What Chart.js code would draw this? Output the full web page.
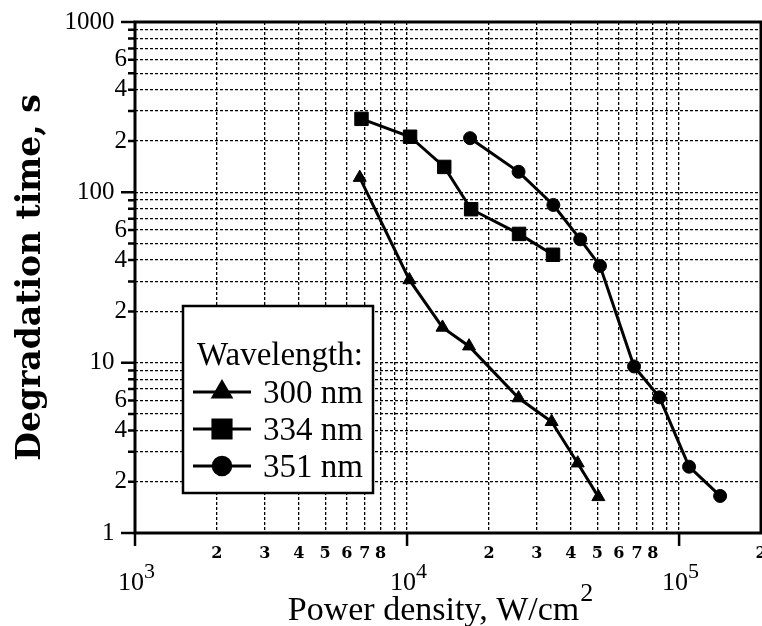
<!DOCTYPE html>
<html>
<head>
<meta charset="utf-8">
<script src="https://cdn.jsdelivr.net/npm/chart.js@4.4.1/dist/chart.umd.min.js"></script>
<style>
  html, body { margin: 0; padding: 0; background: #fff; }
  #wrap { width: 762px; height: 626px; }
</style>
</head>
<body>
<div id="wrap"><canvas id="degradationChart"></canvas></div>
<script>
// Degradation time vs. power density at three wavelengths (log-log)
const wavelengths = ['300 nm', '334 nm', '351 nm'];
const markerStyles = ['triangle', 'rect', 'circle'];
const markerRadius = [7.5, 9.5, 6.5];

const power300 = [6700, 10200, 13500, 16900, 25700, 34000, 42400, 50500];
const time300 = [122, 30.6, 16.1, 12.5, 6.2, 4.5, 2.57, 1.63];

const power334 = [6800, 10260, 13700, 17200, 25800, 34400];
const time334 = [270, 212, 141, 79.6, 57, 43];

const power351 = [17050, 25700, 34500, 43300, 51200, 68300, 84700, 108800, 141500];
const time351 = [208, 132, 84.3, 53, 37, 9.5, 6.26, 2.45, 1.65];

const xTickValues = [
    1000, 2000, 3000, 4000, 5000, 6000, 7000, 8000, 9000,
    10000, 20000, 30000, 40000, 50000, 60000, 70000, 80000, 90000,
    100000, 200000
];
const xLabelDigits = [2, 3, 4, 5, 6, 7, 8];
const xDecades = [1000, 10000, 100000];
const xDecadeExponents = ['3', '4', '5'];

const yTickValues = [
    1, 2, 3, 4, 5, 6, 7, 8, 9,
    10, 20, 30, 40, 50, 60, 70, 80, 90,
    100, 200, 300, 400, 500, 600, 700, 800, 900,
    1000
];
const yLabelDigits = [2, 4, 6];

const xTitle = 'Power density, W/cm';
const xTitleSup = '2';
const yTitle = 'Degradation time, s';
const legendTitle = 'Wavelength:';

function mantissa(v) {
    return Math.round(v / Math.pow(10, Math.floor(Math.log10(v) + 1e-9)));
}

function toPoints(xs, ys) {
    return xs.map((x, i) => ({ x: x, y: ys[i] }));
}

const series = [
    toPoints(power300, time300),
    toPoints(power334, time334),
    toPoints(power351, time351)
];

function drawMarker(ctx, style, radius, x, y) {
    Chart.helpers.drawPoint(ctx, { pointStyle: style, radius: radius, rotation: 0, borderWidth: 1 }, x, y);
}

const overlay = {
    id: 'overlay',
    afterDatasetsDraw(chart) {
        const { ctx, chartArea: a } = chart;
        const box = { left: a.left + 48, top: a.top + 284, width: 190, height: 187 };

        ctx.save();
        ctx.fillStyle = '#fff';
        ctx.fillRect(box.left, box.top, box.width, box.height);
        ctx.strokeStyle = '#000';
        ctx.lineWidth = 2.5;
        ctx.strokeRect(box.left, box.top, box.width, box.height);

        ctx.fillStyle = '#000';
        ctx.font = '33px "Liberation Serif"';
        ctx.textAlign = 'left';
        ctx.textBaseline = 'alphabetic';
        ctx.fillText(legendTitle, box.left + 14, box.top + 59);

        chart.data.datasets.forEach((ds, i) => {
            const base = box.top + 97 + i * 37;
            const cy = base - 11;
            ctx.lineWidth = 3;
            ctx.beginPath();
            ctx.moveTo(box.left + 10, cy);
            ctx.lineTo(box.left + 68, cy);
            ctx.stroke();
            drawMarker(ctx, ds.pointStyle, ds.pointRadius * 1.35, box.left + 39, cy);
            ctx.fillText(ds.label, box.left + 80, base);
        });
        ctx.restore();
    },
    afterDraw(chart) {
        const { ctx, chartArea: a, scales: { x, y } } = chart;
        ctx.save();
        ctx.strokeStyle = '#000';
        ctx.fillStyle = '#000';

        // frame
        ctx.lineWidth = 3;
        ctx.strokeRect(a.left, a.top, a.right - a.left, a.bottom - a.top);

        // tick marks
        ctx.lineWidth = 2.5;
        ctx.beginPath();
        yTickValues.forEach(v => {
            const py = y.getPixelForValue(v);
            const len = mantissa(v) === 1 ? 14 : 7;
            ctx.moveTo(a.left - len, py);
            ctx.lineTo(a.left, py);
        });
        xDecades.forEach(v => {
            const px = x.getPixelForValue(v);
            ctx.moveTo(px, a.bottom);
            ctx.lineTo(px, a.bottom + 13);
        });
        ctx.stroke();

        // decade labels 10^n
        ctx.textBaseline = 'alphabetic';
        xDecades.forEach((v, i) => {
            const px = x.getPixelForValue(v);
            ctx.font = '26px "Liberation Serif"';
            ctx.textAlign = 'right';
            ctx.fillText('10', px + 9, a.bottom + 57);
            ctx.font = '22px "Liberation Serif"';
            ctx.textAlign = 'left';
            ctx.fillText(xDecadeExponents[i], px + 9, a.bottom + 45);
        });

        // x axis title with superscript
        ctx.font = '34px "Liberation Serif"';
        const w1 = ctx.measureText(xTitle).width;
        ctx.font = '26px "Liberation Serif"';
        const w2 = ctx.measureText(xTitleSup).width;
        const startX = (a.left + a.right) / 2 - 8 - (w1 + w2) / 2;
        ctx.textAlign = 'left';
        ctx.font = '34px "Liberation Serif"';
        ctx.fillText(xTitle, startX, a.bottom + 87);
        ctx.font = '26px "Liberation Serif"';
        ctx.fillText(xTitleSup, startX + w1 + 1, a.bottom + 68);
        ctx.restore();
    }
};

const gridStyle = { color: '#000', lineWidth: 1.3, drawTicks: false };
const gridBorder = { display: false, dash: [3, 2] };

const ctx = document.getElementById('degradationChart').getContext('2d');
new Chart(ctx, {
    type: 'scatter',
    data: {
        datasets: wavelengths.map((label, i) => ({
            label: label,
            data: series[i],
            showLine: true,
            borderColor: '#000',
            backgroundColor: '#000',
            borderWidth: 3,
            pointStyle: markerStyles[i],
            pointRadius: markerRadius[i],
            pointBackgroundColor: '#000',
            pointBorderColor: '#000',
            pointBorderWidth: 1
        }))
    },
    options: {
        responsive: true,
        maintainAspectRatio: false,
        animation: false,
        layout: { autoPadding: false, padding: { top: 22, right: 1, left: 0, bottom: 0 } },
        plugins: {
            legend: { display: false },
            tooltip: { enabled: false }
        },
        scales: {
            x: {
                type: 'logarithmic',
                min: 1000,
                max: 200000,
                afterBuildTicks: scale => {
                    scale.ticks = xTickValues.map(v => ({ value: v }));
                },
                afterFit: scale => {
                    // keep the cut-off "2" at the right edge from shrinking the plot
                    scale.height = 93;
                    scale.paddingLeft = 0;
                    scale.paddingRight = 0;
                },
                ticks: {
                    autoSkip: false,
                    maxRotation: 0,
                    padding: 11,
                    color: '#000',
                    font: { family: '"DejaVu Serif"', size: 16, weight: 'bold' },
                    callback: value => {
                        if (xDecades.includes(value)) return '';
                        const m = mantissa(value);
                        return xLabelDigits.includes(m) ? String(m) : '';
                    }
                },
                grid: gridStyle,
                border: gridBorder
            },
            y: {
                type: 'logarithmic',
                min: 1,
                max: 1000,
                afterBuildTicks: scale => {
                    scale.ticks = yTickValues.map(v => ({ value: v }));
                },
                afterFit: scale => {
                    scale.width = 135;
                    scale.paddingTop = 0;
                    scale.paddingBottom = 0;
                },
                ticks: {
                    autoSkip: false,
                    padding: 8,
                    color: '#000',
                    font: { family: '"Liberation Serif"', size: 25 },
                    callback: value => {
                        const m = mantissa(value);
                        if (m === 1) return String(value) + '\u2002';
                        return yLabelDigits.includes(m) ? String(m) : '';
                    }
                },
                title: {
                    display: true,
                    text: yTitle,
                    color: '#000',
                    font: { family: '"DejaVu Serif"', size: 33, weight: 'bold' },
                    padding: { top: 12, bottom: 0 }
                },
                grid: gridStyle,
                border: gridBorder
            }
        }
    },
    plugins: [overlay]
});
</script>
</body>
</html>
